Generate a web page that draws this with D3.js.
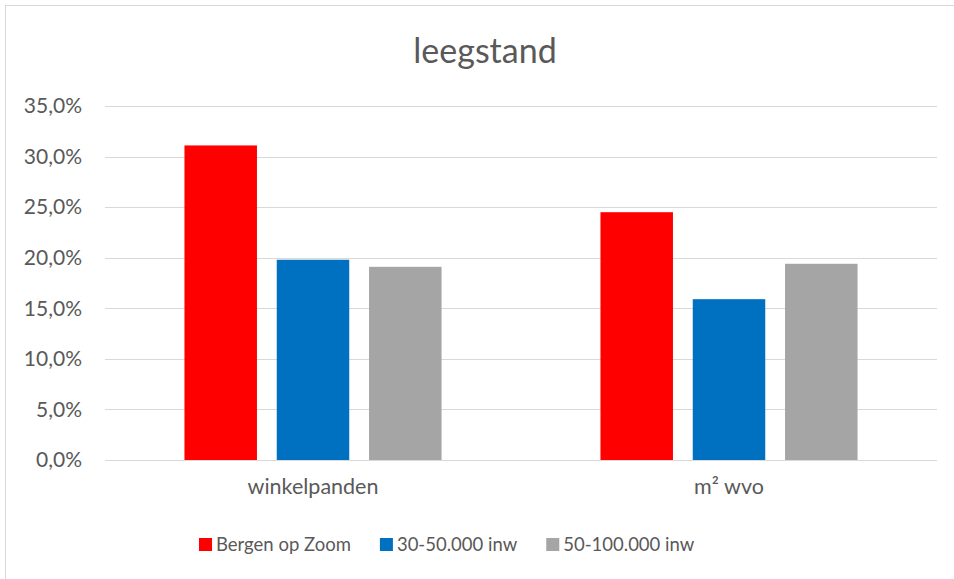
<!DOCTYPE html>
<html>
<head>
<meta charset="utf-8">
<script src="https://cdn.jsdelivr.net/npm/d3@7"></script>
<style>
  html, body { margin: 0; padding: 0; background: #fff; }
  svg { display: block; }
  text { font-family: Lato, "Open Sans", sans-serif; fill: #595959; }
</style>
</head>
<body>
<svg id="chart" width="954" height="579"></svg>
<script>
// Vacancy rates per category and comparison group
const categories = ["winkelpanden", "m² wvo"];
const series = ["Bergen op Zoom", "30-50.000 inw", "50-100.000 inw"];
const colors = ["#FF0000", "#0070C0", "#A5A5A5"];
const bergenOpZoom = [0.311, 0.245];
const inw30to50 = [0.198, 0.159];
const inw50to100 = [0.191, 0.194];
const yTicks = [0, 0.05, 0.10, 0.15, 0.20, 0.25, 0.30, 0.35];

const values = [bergenOpZoom, inw30to50, inw50to100];
const rows = [];
categories.forEach((c, ci) => {
  series.forEach((s, si) => rows.push({ category: c, series: s, value: values[si][ci], color: colors[si] }));
});

const svg = d3.select("#chart");
const W = 954, H = 579;
const plot = { left: 105, right: 937, top: 106, bottom: 460 };

// chart frame
svg.append("rect")
  .attr("x", 5.5).attr("y", 5.5)
  .attr("width", W + 10).attr("height", H + 10)
  .attr("fill", "#fff").attr("stroke", "#D9D9D9").attr("stroke-width", 1);

const y = d3.scaleLinear().domain([0, 0.35]).range([plot.bottom, plot.top]);
const x0 = d3.scaleBand().domain(categories).range([plot.left, plot.right]).padding(0);
const x1 = d3.scaleBand().domain(series).range([0, x0.bandwidth()])
  .paddingInner(0.2145).paddingOuter(0.861);

const fmt = v => d3.format(".1f")(v * 100).replace(".", ",") + "%";

// gridlines
svg.append("g")
  .selectAll("line")
  .data(yTicks)
  .join("line")
  .attr("x1", plot.left).attr("x2", plot.right)
  .attr("y1", d => Math.round(y(d)) + 0.5).attr("y2", d => Math.round(y(d)) + 0.5)
  .attr("stroke", "#D9D9D9").attr("stroke-width", 1);

// y axis labels
const yAxis = d3.axisLeft(y).tickValues(yTicks).tickFormat(fmt).tickSize(0).tickPadding(23);
const gy = svg.append("g").attr("transform", `translate(${plot.left},0)`).call(yAxis);
gy.select(".domain").remove();
gy.selectAll("text").style("font-size", "21px").style("fill", "#595959")
  .style("font-family", "Lato, 'Open Sans', sans-serif");

// bars
svg.append("g")
  .selectAll("rect")
  .data(rows)
  .join("rect")
  .attr("x", d => x0(d.category) + x1(d.series))
  .attr("width", x1.bandwidth())
  .attr("y", d => y(d.value))
  .attr("height", d => y(0) - y(d.value))
  .attr("fill", d => d.color);

// category axis
const xAxis = d3.axisBottom(x0).tickSize(0).tickPadding(19);
const gx = svg.append("g").attr("transform", `translate(0,${plot.bottom})`).call(xAxis);
gx.select(".domain").remove();
gx.selectAll("text").style("font-size", "21.5px").style("fill", "#595959")
  .style("font-family", "Lato, 'Open Sans', sans-serif");

// title
svg.append("text")
  .attr("x", 485).attr("y", 63)
  .attr("text-anchor", "middle")
  .style("font-size", "34px")
  .text("leegstand");

// legend
const legend = svg.append("g");
let lx = 199;
series.forEach((s, i) => {
  const g = legend.append("g").attr("transform", `translate(${lx},0)`);
  g.append("rect").attr("x", 0).attr("y", 538).attr("width", 13).attr("height", 13).attr("fill", colors[i]);
  const t = g.append("text").attr("x", 17).attr("y", 551).style("font-size", "18.5px").text(s);
  lx += 17 + t.node().getComputedTextLength() + 29;
});
</script>
</body>
</html>
